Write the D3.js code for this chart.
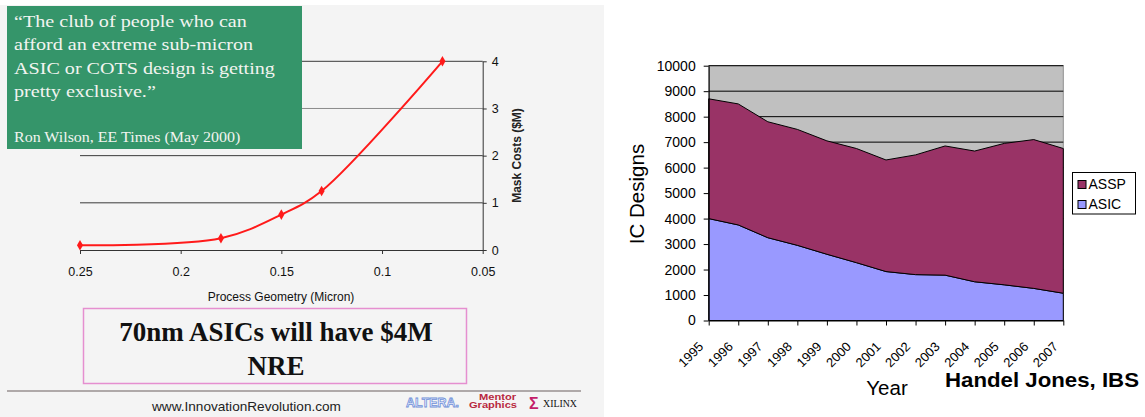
<!DOCTYPE html>
<html><head><meta charset="utf-8">
<script src="https://cdn.jsdelivr.net/npm/d3@7"></script>
<style>body{margin:0;background:#fff}svg{display:block}</style>
</head><body><svg id="c" width="1145" height="417"></svg>
<script>
// ---- left chart data ----
const geometry = [0.25, 0.18, 0.15, 0.13, 0.07];
const maskCost = [0.1, 0.25, 0.75, 1.25, 4.0];
const geometryTicks = [0.25, 0.2, 0.15, 0.1, 0.05];
const costTicks = [0, 1, 2, 3, 4];
const quoteLines = ["\u201CThe club of people who can", "afford an extreme sub-micron", "ASIC or COTS design is getting", "pretty exclusive.\u201D"];
const quoteSource = "Ron Wilson, EE Times (May 2000)";
const calloutLines = ["70nm ASICs will have $4M", "NRE"];
const footerUrl = "www.InnovationRevolution.com";

// ---- right chart data ----
const years = [1995, 1996, 1997, 1998, 1999, 2000, 2001, 2002, 2003, 2004, 2005, 2006, 2007];
const asic = [4000, 3750, 3250, 2950, 2600, 2270, 1920, 1800, 1780, 1520, 1400, 1260, 1070];
const assp = [4700, 4750, 4550, 4550, 4450, 4480, 4380, 4700, 5070, 5130, 5550, 5840, 5680];
const designTicks = [0, 1000, 2000, 3000, 4000, 5000, 6000, 7000, 8000, 9000, 10000];
const seriesNames = ["ASIC", "ASSP"];
const seriesColors = {ASIC: "#9999ff", ASSP: "#993366"};

const svg = d3.select("#c");
const SANS = "'Liberation Sans', Arial, sans-serif";
const SERIF = "'Liberation Serif', 'Times New Roman', serif";

// ================= LEFT PANEL =================
svg.append("rect").attr("x", 0).attr("y", 5).attr("width", 604).attr("height", 412).attr("fill", "#f4f4f4");

const xL = d3.scaleLinear().domain([0.25, 0.05]).range([80, 482.7]);
const yL = d3.scaleLinear().domain([0, 4]).range([250, 61.3]);

// gridlines
svg.append("g").selectAll("line").data(costTicks.filter(d => d > 0)).join("line")
  .attr("x1", xL(0.25)).attr("x2", xL(0.05))
  .attr("y1", d => yL(d)).attr("y2", d => yL(d))
  .attr("stroke", d => d === 3 ? "#8a8a8a" : "#3a3a3a").attr("stroke-width", 1);

// axes
const axB = svg.append("g").attr("transform", `translate(0,${yL(0)})`)
  .call(d3.axisBottom(xL).tickValues(geometryTicks).tickSize(4).tickSizeOuter(0).tickPadding(13).tickFormat(d => String(d)));
const axR = svg.append("g").attr("transform", `translate(${xL(0.05)},0)`)
  .call(d3.axisRight(yL).tickValues(costTicks).tickSize(4).tickSizeOuter(0).tickPadding(5).tickFormat(d => String(d)));
[axB, axR].forEach(a => {
  a.selectAll("path,line").attr("stroke", "#333");
  a.selectAll("text").attr("font-family", SANS).attr("font-size", 12.5).attr("fill", "#111");
});

svg.append("text").attr("x", 281).attr("y", 301).attr("text-anchor", "middle")
  .attr("font-family", SANS).attr("font-size", 12).attr("fill", "#111").text("Process Geometry (Micron)");
svg.append("text").attr("transform", `translate(521,155.5) rotate(-90)`).attr("text-anchor", "middle")
  .attr("font-family", SANS).attr("font-size", 12).attr("font-weight", "bold").attr("fill", "#222").text("Mask Costs ($M)");

// line
const costPts = geometry.map((g, i) => [g, maskCost[i]]);
svg.append("path").datum(costPts)
  .attr("d", d3.line().x(d => xL(d[0])).y(d => yL(d[1])).curve(d3.curveCatmullRom.alpha(0.5)))
  .attr("fill", "none").attr("stroke", "#ff1a1a").attr("stroke-width", 2);
svg.append("g").selectAll("path").data(costPts).join("path")
  .attr("transform", d => `translate(${xL(d[0])},${yL(d[1])})`)
  .attr("d", d3.symbol(d3.symbolDiamond, 32)).attr("fill", "#ff1a1a");

// green quote box
svg.append("rect").attr("x", 7).attr("y", 6).attr("width", 295).attr("height", 143).attr("fill", "#35956a");
const qg = svg.append("g").attr("transform", "translate(14,0) scale(1.15,1)")
  .attr("font-family", SERIF).attr("fill", "#f2f4f0");
qg.selectAll("text.q").data(quoteLines).join("text").attr("class", "q")
  .attr("x", 0).attr("y", (d, i) => 27 + i * 23.5).attr("font-size", 17.5).text(d => d);
qg.append("text").attr("x", 0).attr("y", 142.5).attr("font-size", 13.9).text(quoteSource);

// callout box
svg.append("rect").attr("x", 83.5).attr("y", 308.5).attr("width", 383).attr("height", 75)
  .attr("fill", "#f4f4f4").attr("stroke", "#e58fd0").attr("stroke-width", 1.5);
svg.append("g").selectAll("text").data(calloutLines).join("text")
  .attr("x", 276).attr("y", (d, i) => 341 + i * 34).attr("text-anchor", "middle")
  .attr("font-family", SERIF).attr("font-weight", "bold").attr("font-size", 27).attr("fill", "#111").text(d => d);

// footer rule and url
svg.append("line").attr("x1", 7).attr("x2", 581).attr("y1", 391).attr("y2", 391).attr("stroke", "#6a5e5e").attr("stroke-width", 1.2);
svg.append("text").attr("x", 246.5).attr("y", 411).attr("text-anchor", "middle")
  .attr("font-family", SANS).attr("font-size", 13.6).attr("fill", "#222").text(footerUrl);

// logos (text approximations)
svg.append("text").attr("x", 406).attr("y", 407).attr("font-family", SANS).attr("font-weight", "bold")
  .attr("font-size", 13).attr("textLength", 53).attr("lengthAdjust", "spacingAndGlyphs")
  .attr("fill", "#eef2ff").attr("stroke", "#6f8fd8").attr("stroke-width", 0.8).text("ALTERA.");
svg.append("text").attr("x", 479).attr("y", 400).attr("font-family", SANS).attr("font-weight", "bold")
  .attr("font-size", 9).attr("textLength", 37).attr("lengthAdjust", "spacingAndGlyphs").attr("fill", "#b8283e").text("Mentor");
svg.append("text").attr("x", 469).attr("y", 408).attr("font-family", SANS).attr("font-weight", "bold")
  .attr("font-size", 9).attr("textLength", 48).attr("lengthAdjust", "spacingAndGlyphs").attr("fill", "#b8283e").text("Graphics");
svg.append("text").attr("x", 529).attr("y", 409).attr("font-family", SANS).attr("font-weight", "bold")
  .attr("font-size", 16).attr("fill", "#c41e6a").text("\u03A3");
svg.append("text").attr("x", 543).attr("y", 406.5).attr("font-family", SERIF)
  .attr("font-size", 9.5).attr("textLength", 34).attr("lengthAdjust", "spacingAndGlyphs").attr("fill", "#111").text("XILINX");

// ================= RIGHT CHART =================
const xR = d3.scalePoint().domain(years).range([708.7, 1063.3]);
const yR = d3.scaleLinear().domain([0, 10000]).range([320.5, 65.7]);

svg.append("rect").attr("x", xR(1995)).attr("y", yR(10000))
  .attr("width", xR(2007) - xR(1995)).attr("height", yR(0) - yR(10000))
  .attr("fill", "#c0c0c0").attr("stroke", "#909090");

svg.append("g").selectAll("line").data(designTicks.filter(d => d > 0)).join("line")
  .attr("x1", xR(1995)).attr("x2", xR(2007)).attr("y1", d => yR(d)).attr("y2", d => yR(d))
  .attr("stroke", "#000").attr("stroke-width", 1);

const rows = years.map((y, i) => ({year: y, ASIC: asic[i], ASSP: assp[i]}));
const stacked = d3.stack().keys(seriesNames)(rows);
const area = d3.area().x(d => xR(d.data.year)).y0(d => yR(d[0])).y1(d => yR(d[1]));
svg.append("g").selectAll("path").data(stacked).join("path")
  .attr("d", area).attr("fill", d => seriesColors[d.key]).attr("stroke", "#000").attr("stroke-width", 1);

const ayR = svg.append("g").attr("transform", `translate(${xR(1995)},0)`)
  .call(d3.axisLeft(yR).tickValues(designTicks).tickSize(5).tickSizeOuter(0).tickPadding(8).tickFormat(d3.format("d")));
ayR.selectAll("path,line").attr("stroke", "#000");
ayR.selectAll("text").attr("font-family", SANS).attr("font-size", 14).attr("fill", "#000");

const axXR = svg.append("g").attr("transform", `translate(0,${yR(0)})`)
  .call(d3.axisBottom(xR).tickSize(5).tickSizeOuter(0));
axXR.selectAll("path,line").attr("stroke", "#000");
axXR.selectAll("text").attr("x", null).attr("y", null).attr("dy", null)
  .attr("transform", "translate(-5,27) rotate(-45)").attr("text-anchor", "end")
  .attr("font-family", SANS).attr("font-size", 13).attr("fill", "#000");

svg.append("text").attr("transform", "translate(643.5,194) rotate(-90)").attr("text-anchor", "middle")
  .attr("font-family", SANS).attr("font-size", 20.5).attr("fill", "#000").text("IC Designs");
svg.append("text").attr("x", 887).attr("y", 395).attr("text-anchor", "middle")
  .attr("font-family", SANS).attr("font-size", 20.5).attr("fill", "#000").text("Year");
svg.append("text").attr("x", 945).attr("y", 387).attr("font-family", SANS).attr("font-weight", "bold")
  .attr("font-size", 21).attr("textLength", 194).attr("lengthAdjust", "spacingAndGlyphs")
  .attr("fill", "#000").text("Handel Jones, IBS");

// legend
const lg = svg.append("g");
lg.append("rect").attr("x", 1072.5).attr("y", 172.5).attr("width", 63).attr("height", 41.5)
  .attr("fill", "#fff").attr("stroke", "#000");
const legendOrder = ["ASSP", "ASIC"];
legendOrder.forEach((k, i) => {
  lg.append("rect").attr("x", 1078).attr("y", 180.5 + i * 20).attr("width", 8).attr("height", 8)
    .attr("fill", seriesColors[k]).attr("stroke", "#000");
  lg.append("text").attr("x", 1088.5).attr("y", 189 + i * 20).attr("font-family", SANS)
    .attr("font-size", 14).attr("fill", "#000").text(k);
});
</script></body></html>
